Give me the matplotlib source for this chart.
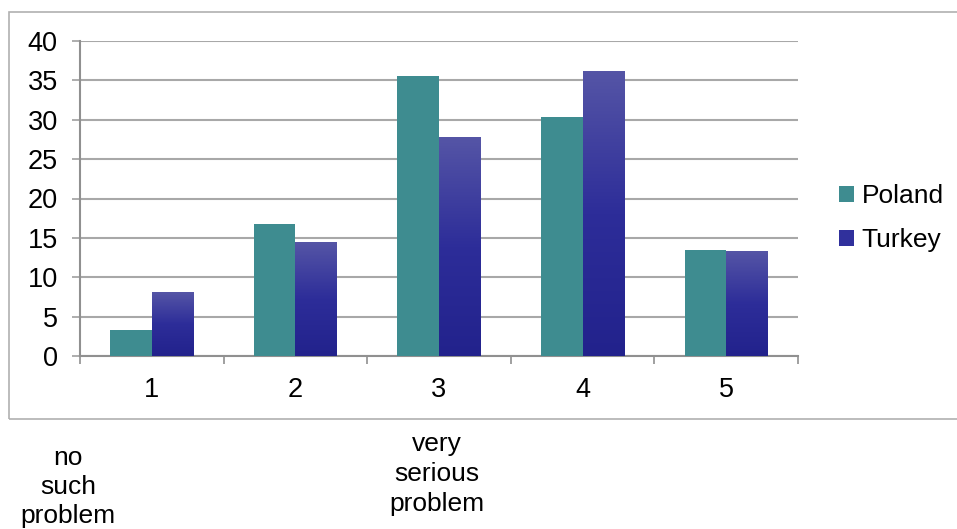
import numpy as np
import matplotlib
matplotlib.use('Agg')
import matplotlib.pyplot as plt
from matplotlib.patches import Rectangle, Patch
from matplotlib.colors import LinearSegmentedColormap

# data
categories = ['1', '2', '3', '4', '5']
poland = [3.3, 16.8, 35.6, 30.4, 13.5]
turkey = [8.1, 14.4, 27.8, 36.1, 13.3]
yticks = [0, 5, 10, 15, 20, 25, 30, 35, 40]
bottom_notes = ['no\nsuch\nproblem', 'very\nserious\nproblem']

plt.rcParams['font.family'] = ['Liberation Sans', 'DejaVu Sans']

teal = '#3e8c90'
grad = LinearSegmentedColormap.from_list('tk', ['#22228c', '#2d2d99', '#5555a6'])

fig = plt.figure(figsize=(9.57, 5.29), dpi=100)
# outer chart border
fig.patches.append(Rectangle((9/957, 110/529), 1.2, 407/529, transform=fig.transFigure,
                             fill=False, edgecolor='#b0b0b0', linewidth=1.2))

ax = fig.add_axes([80/957, 173/529, 718/957, 315/529])
x = np.arange(len(categories))
w = 0.29
b1 = ax.bar(x - w/2, poland, w, color=teal, zorder=3, label='Poland')
b2 = ax.bar(x + w/2, turkey, w, color='none', zorder=3, label='Turkey')

g = np.linspace(0, 1, 256).reshape(-1, 1)
for p in b2:
    x0, y0 = p.get_x(), p.get_y()
    ax.imshow(g, cmap=grad, origin='lower', aspect='auto', zorder=3,
              extent=[x0, x0 + p.get_width(), y0, y0 + p.get_height()])

ax.set_xlim(-0.5, len(categories) - 0.5)
ax.set_ylim(0, 40)
ax.set_yticks(yticks)
ax.set_xticks(x)
ax.set_xticklabels(categories)
ax.set_xticks(np.arange(len(categories) + 1) - 0.5, minor=True)
ax.tick_params(axis='x', which='major', length=0, pad=15, labelsize=19.5)
ax.tick_params(axis='x', which='minor', length=6, width=1.2, color='#909090')
ax.tick_params(axis='y', length=6, width=1.2, color='#a0a0a0', pad=10, labelsize=19.5)
ax.grid(axis='y', color='#a8a8a8', linewidth=1.5, zorder=0)
for s in ['top', 'right']:
    ax.spines[s].set_visible(False)
ax.spines['left'].set_color('#909090')
ax.spines['bottom'].set_color('#909090')
ax.spines['left'].set_linewidth(1.5)
ax.spines['bottom'].set_linewidth(1.5)

handles = [Patch(facecolor=teal), Patch(facecolor='#30309c')]
fig.legend(handles, ['Poland', 'Turkey'], loc='center left',
           bbox_to_anchor=(839/957, 1 - 218/529), frameon=False, fontsize=19,
           handlelength=0.55, handleheight=0.55, handletextpad=0.3, labelspacing=0.75,
           borderpad=0, borderaxespad=0)

fig.text(68/957, 1 - 487/529, bottom_notes[0], ha='center', va='center', fontsize=19, linespacing=1.25)
fig.text(437/957, 1 - 474/529, bottom_notes[1], ha='center', va='center', fontsize=19, linespacing=1.33)

fig.savefig('out.png', dpi=100)
